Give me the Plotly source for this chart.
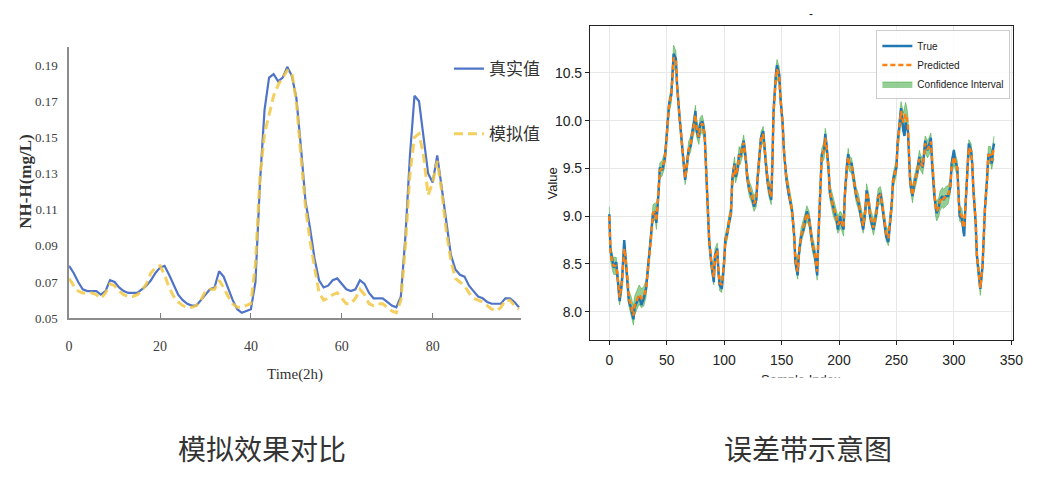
import plotly.graph_objects as go

W, H = 1046, 490

# ---------------- Left chart data: NH-H (mg/L) vs Time(2h) ----------------
time_2h = list(range(100))
nh_true = [0.079, 0.075, 0.070, 0.066, 0.065, 0.065, 0.065, 0.063, 0.065, 0.071,
           0.070, 0.067, 0.065, 0.064, 0.064, 0.064, 0.066, 0.068, 0.071, 0.075,
           0.078, 0.079, 0.074, 0.068, 0.063, 0.060, 0.058, 0.057, 0.057, 0.060,
           0.063, 0.066, 0.067, 0.076, 0.073, 0.066, 0.060, 0.055, 0.053, 0.054,
           0.055, 0.070, 0.125, 0.165, 0.183, 0.185, 0.181, 0.183, 0.189, 0.184,
           0.172, 0.145, 0.115, 0.100, 0.083, 0.071, 0.067, 0.068, 0.071, 0.072,
           0.069, 0.066, 0.065, 0.066, 0.071, 0.069, 0.064, 0.061, 0.061, 0.061,
           0.059, 0.057, 0.056, 0.062, 0.095, 0.140, 0.173, 0.170, 0.150, 0.130,
           0.125, 0.140, 0.122, 0.102, 0.085, 0.077, 0.074, 0.073, 0.068, 0.065,
           0.062, 0.061, 0.059, 0.058, 0.058, 0.058, 0.061, 0.061, 0.059, 0.056]
nh_sim = [0.072, 0.068, 0.065, 0.064, 0.064, 0.064, 0.063, 0.061, 0.064, 0.069,
          0.068, 0.065, 0.063, 0.062, 0.062, 0.063, 0.065, 0.069, 0.075, 0.078,
          0.079, 0.074, 0.067, 0.062, 0.059, 0.057, 0.056, 0.056, 0.057, 0.060,
          0.065, 0.066, 0.066, 0.071, 0.067, 0.062, 0.058, 0.056, 0.056, 0.057,
          0.058, 0.080, 0.128, 0.152, 0.162, 0.173, 0.179, 0.183, 0.187, 0.186,
          0.170, 0.140, 0.112, 0.093, 0.078, 0.064, 0.060, 0.061, 0.063, 0.064,
          0.061, 0.058, 0.058, 0.061, 0.066, 0.063, 0.058, 0.057, 0.058, 0.058,
          0.056, 0.054, 0.053, 0.060, 0.090, 0.130, 0.150, 0.152, 0.140, 0.118,
          0.125, 0.137, 0.120, 0.098, 0.082, 0.072, 0.070, 0.068, 0.064, 0.061,
          0.060, 0.059, 0.057, 0.055, 0.054, 0.056, 0.060, 0.060, 0.057, 0.055]
left_yticks = [0.05, 0.07, 0.09, 0.11, 0.13, 0.15, 0.17, 0.19]
left_ytext = ["0.05", "0.07", "0.09", "0.11", "0.13", "0.15", "0.17", "0.19"]
left_xticks = [0, 20, 40, 60, 80]

# ---------------- Right chart data: True / Predicted / CI ----------------
sample_idx = [0, 1, 3, 4, 6, 7, 9, 11, 13, 14, 16, 17, 19, 21, 22, 24, 26, 28, 30, 32, 34, 36, 38, 40, 41, 43, 44, 46, 48, 49,
              51, 52, 54, 55, 56, 58, 59, 61, 63, 65, 66, 68, 69, 71, 72, 74, 75, 76, 78, 79, 81, 83, 84, 86, 87, 89, 91, 92, 94, 95,
              96, 98, 100, 101, 103, 104, 106, 107, 109, 110, 112, 113, 114, 116, 117, 119, 120, 122, 124, 126, 128, 129, 131, 132, 134, 135, 137, 138, 139, 141,
              142, 143, 145, 146, 148, 149, 151, 152, 154, 156, 159, 161, 162, 164, 165, 167, 169, 170, 172, 174, 175, 177, 179, 181, 182, 184, 185, 187, 188, 189,
              191, 192, 194, 195, 197, 198, 199, 201, 202, 204, 205, 207, 208, 209, 211, 212, 214, 215, 217, 218, 219, 221, 223, 224, 226, 227, 229, 230, 231, 233,
              234, 236, 237, 239, 240, 241, 243, 244, 246, 247, 249, 250, 251, 253, 254, 256, 257, 258, 259, 260, 261, 262, 264, 265, 267, 268, 270, 271, 273, 274,
              275, 277, 278, 280, 281, 283, 284, 285, 287, 288, 290, 291, 293, 294, 295, 297, 298, 300, 301, 303, 304, 305, 307, 308, 309, 310, 312, 313, 315, 316,
              317, 319, 320, 322, 323, 325, 326, 327, 329, 330, 332, 333, 334, 335]
val_true = [9.02, 8.66, 8.52, 8.46, 8.52, 8.38, 8.11, 8.31, 8.75, 8.59, 8.31, 8.11, 8.04, 7.92, 8.04, 8.11, 8.16, 8.07, 8.14, 8.24, 8.48, 8.73, 9.02, 9.05, 8.93, 9.27, 9.51, 9.48, 9.58, 9.69,
            9.96, 10.17, 10.27, 10.51, 10.70, 10.65, 10.37, 10.06, 9.79, 9.55, 9.38, 9.58, 9.69, 9.74, 9.86, 9.99, 10.10, 9.89, 9.82, 9.96, 9.99, 9.86, 9.55, 9.07, 8.73, 8.48, 8.31, 8.59, 8.66, 8.42,
            8.28, 8.24, 8.52, 8.76, 8.83, 8.93, 9.03, 9.38, 9.55, 9.41, 9.51, 9.65, 9.62, 9.72, 9.79, 9.58, 9.41, 9.27, 9.21, 9.10, 9.17, 9.38, 9.65, 9.82, 9.89, 9.72, 9.45, 9.34, 9.27, 9.17,
            9.55, 10.10, 10.48, 10.58, 10.48, 10.24, 9.96, 9.69, 9.41, 9.24, 9.07, 8.79, 8.52, 8.38, 8.59, 8.79, 8.86, 8.93, 9.05, 8.97, 8.86, 8.69, 8.59, 8.38, 8.76, 9.34, 9.65, 9.69, 9.86, 9.76,
            9.48, 9.24, 9.14, 9.07, 9.00, 8.97, 8.86, 9.00, 8.93, 8.86, 9.21, 9.55, 9.65, 9.55, 9.55, 9.45, 9.31, 9.21, 9.14, 9.07, 8.97, 8.86, 9.07, 9.27, 9.14, 9.00, 8.90, 8.86, 8.93, 9.07,
            9.21, 9.24, 9.17, 8.97, 8.83, 8.79, 8.73, 8.86, 9.14, 9.38, 9.48, 9.51, 9.76, 10.00, 10.13, 9.89, 9.84, 9.98, 9.92, 9.89, 9.62, 9.34, 9.21, 9.31, 9.41, 9.45, 9.62, 9.55, 9.51, 9.65,
            9.79, 9.69, 9.72, 9.82, 9.55, 9.21, 9.10, 9.03, 9.10, 9.17, 9.21, 9.17, 9.21, 9.21, 9.21, 9.31, 9.55, 9.69, 9.58, 9.51, 9.17, 9.00, 8.97, 8.86, 8.79, 9.07, 9.48, 9.76, 9.69, 9.55,
            9.27, 8.93, 8.59, 8.35, 8.24, 8.48, 8.79, 9.07, 9.41, 9.65, 9.62, 9.55, 9.69, 9.76]
val_pred = [9.00, 8.62, 8.50, 8.48, 8.48, 8.40, 8.15, 8.30, 8.66, 8.58, 8.33, 8.14, 8.06, 7.96, 8.06, 8.13, 8.18, 8.14, 8.16, 8.24, 8.47, 8.72, 9.03, 9.05, 8.95, 9.25, 9.48, 9.50, 9.58, 9.68,
            9.95, 10.15, 10.27, 10.48, 10.66, 10.63, 10.38, 10.06, 9.80, 9.55, 9.40, 9.57, 9.70, 9.76, 9.85, 9.97, 10.06, 9.92, 9.83, 9.94, 9.97, 9.86, 9.55, 9.09, 8.75, 8.50, 8.36, 8.58, 8.64, 8.44,
            8.30, 8.28, 8.52, 8.74, 8.84, 8.93, 9.05, 9.36, 9.53, 9.43, 9.52, 9.64, 9.62, 9.71, 9.77, 9.59, 9.42, 9.28, 9.22, 9.13, 9.18, 9.38, 9.63, 9.80, 9.86, 9.72, 9.46, 9.36, 9.29, 9.20,
            9.55, 10.08, 10.45, 10.54, 10.47, 10.24, 9.96, 9.70, 9.42, 9.26, 9.07, 8.80, 8.55, 8.42, 8.60, 8.80, 8.88, 8.93, 9.03, 8.97, 8.87, 8.70, 8.60, 8.42, 8.76, 9.32, 9.63, 9.69, 9.82, 9.75,
            9.49, 9.26, 9.16, 9.09, 9.03, 8.98, 8.91, 8.96, 8.95, 8.88, 9.20, 9.52, 9.62, 9.55, 9.53, 9.45, 9.32, 9.22, 9.15, 9.09, 9.00, 8.90, 9.06, 9.25, 9.15, 9.02, 8.93, 8.88, 8.94, 9.07,
            9.20, 9.22, 9.18, 8.99, 8.86, 8.82, 8.77, 8.87, 9.13, 9.36, 9.48, 9.52, 9.74, 9.98, 10.10, 9.98, 10.02, 10.07, 10.03, 9.95, 9.66, 9.36, 9.22, 9.31, 9.41, 9.46, 9.60, 9.56, 9.52, 9.64,
            9.76, 9.70, 9.72, 9.78, 9.60, 9.25, 9.10, 9.05, 9.10, 9.16, 9.20, 9.18, 9.21, 9.22, 9.22, 9.32, 9.52, 9.62, 9.58, 9.50, 9.20, 9.03, 9.00, 8.90, 8.88, 9.07, 9.46, 9.72, 9.68, 9.55,
            9.28, 8.95, 8.60, 8.36, 8.25, 8.48, 8.78, 9.06, 9.40, 9.64, 9.64, 9.58, 9.66, 9.72]
ci_half = [0.10, 0.08, 0.08, 0.09, 0.09, 0.08, 0.08, 0.08, 0.08, 0.08, 0.08, 0.08, 0.10, 0.10, 0.10, 0.10, 0.10, 0.10, 0.10, 0.09, 0.08, 0.08, 0.09, 0.09, 0.09, 0.08, 0.08, 0.08, 0.08, 0.08,
           0.08, 0.08, 0.08, 0.09, 0.13, 0.10, 0.08, 0.07, 0.07, 0.07, 0.07, 0.08, 0.08, 0.08, 0.08, 0.09, 0.10, 0.09, 0.08, 0.09, 0.09, 0.08, 0.07, 0.07, 0.07, 0.07, 0.08, 0.08, 0.08, 0.08,
           0.08, 0.08, 0.08, 0.07, 0.07, 0.07, 0.08, 0.09, 0.09, 0.08, 0.08, 0.09, 0.08, 0.08, 0.08, 0.08, 0.08, 0.08, 0.08, 0.08, 0.08, 0.08, 0.08, 0.08, 0.08, 0.08, 0.08, 0.09, 0.09, 0.08,
           0.08, 0.08, 0.09, 0.10, 0.09, 0.08, 0.07, 0.07, 0.07, 0.07, 0.07, 0.08, 0.08, 0.08, 0.08, 0.08, 0.08, 0.08, 0.08, 0.08, 0.08, 0.08, 0.08, 0.09, 0.08, 0.08, 0.08, 0.09, 0.10, 0.09,
           0.08, 0.08, 0.09, 0.09, 0.09, 0.09, 0.09, 0.09, 0.09, 0.09, 0.08, 0.08, 0.09, 0.08, 0.08, 0.08, 0.08, 0.08, 0.08, 0.08, 0.08, 0.08, 0.09, 0.09, 0.08, 0.08, 0.08, 0.08, 0.08, 0.08,
           0.09, 0.09, 0.08, 0.08, 0.08, 0.08, 0.08, 0.08, 0.08, 0.08, 0.08, 0.08, 0.08, 0.09, 0.10, 0.10, 0.12, 0.12, 0.11, 0.10, 0.08, 0.08, 0.08, 0.08, 0.08, 0.08, 0.09, 0.08, 0.08, 0.08,
           0.08, 0.09, 0.09, 0.09, 0.08, 0.09, 0.09, 0.10, 0.10, 0.10, 0.10, 0.10, 0.10, 0.10, 0.09, 0.08, 0.08, 0.08, 0.08, 0.08, 0.08, 0.08, 0.08, 0.08, 0.08, 0.08, 0.08, 0.08, 0.08, 0.08,
           0.08, 0.08, 0.08, 0.08, 0.08, 0.08, 0.07, 0.07, 0.08, 0.09, 0.09, 0.09, 0.10, 0.12]
right_xticks = [0, 50, 100, 150, 200, 250, 300, 350]
right_yticks = [8.0, 8.5, 9.0, 9.5, 10.0, 10.5]
right_ytext = ["8.0", "8.5", "9.0", "9.5", "10.0", "10.5"]

assert len(sample_idx) == len(val_true) == len(val_pred) == len(ci_half)
ci_lower = [p - h for p, h in zip(val_pred, ci_half)]
ci_upper = [p + h for p, h in zip(val_pred, ci_half)]

SERIF = "Liberation Serif, Times New Roman, serif"
SANS = "Liberation Sans, Arial, sans-serif"
CJK = "Noto Sans CJK SC, sans-serif"

def fx(p):
    return p / W

def fy(p):
    return 1 - p / H

fig = go.Figure()

# Left chart
fig.add_trace(go.Scatter(x=time_2h, y=nh_true, mode="lines", name="真实值",
                         line=dict(color="#4f74c8", width=2.2),
                         xaxis="x", yaxis="y", legend="legend", legendgroup="t"))
fig.add_trace(go.Scatter(x=time_2h, y=nh_sim, mode="lines", name="模拟值",
                         line=dict(color="#f2c844", width=3, dash="9px,5px"), opacity=0.85,
                         xaxis="x", yaxis="y", legend="legend", legendgroup="s"))

# Right chart
fig.add_trace(go.Scatter(x=sample_idx, y=ci_lower, mode="lines", line=dict(width=1, color="rgba(44,160,44,0.45)"),
                         showlegend=False, hoverinfo="skip", xaxis="x2", yaxis="y2", legend="legend2"))
fig.add_trace(go.Scatter(x=sample_idx, y=ci_upper, mode="lines", line=dict(width=1, color="rgba(44,160,44,0.45)"),
                         fill="tonexty", fillcolor="rgba(44,160,44,0.5)", name="Confidence Interval",
                         xaxis="x2", yaxis="y2", legend="legend2", legendrank=3))
fig.add_trace(go.Scatter(x=sample_idx, y=val_true, mode="lines", name="True",
                         line=dict(color="#1f77b4", width=2.4),
                         xaxis="x2", yaxis="y2", legend="legend2", legendrank=1))
fig.add_trace(go.Scatter(x=sample_idx, y=val_pred, mode="lines", name="Predicted",
                         line=dict(color="#ff7f0e", width=2.4, dash="5px,3px"),
                         xaxis="x2", yaxis="y2", legend="legend2", legendrank=2))

annotations = [
    dict(text="<b>NH-H(mg/L)</b>", x=fx(22), y=fy(185), textangle=-90,
         font=dict(family=SERIF, size=17, color="#333333")),
    dict(text="Time(2h)", x=fx(295), y=fy(381), font=dict(family=SERIF, size=15, color="#333333")),
    dict(text="Value", x=fx(556), y=fy(187), textangle=-90, font=dict(family=SANS, size=13, color="#222222")),
    dict(text="-", x=fx(818), y=fy(14), font=dict(family=SANS, size=12, color="#222222")),
    dict(text="Sample Index", x=fx(808), y=fy(386), font=dict(family=SANS, size=13, color="#222222")),
    dict(text=" ", x=fx(808), y=fy(394), width=200, height=18, bgcolor="white",
         font=dict(size=8)),
    dict(text="模拟效果对比", x=fx(262), y=fy(455), font=dict(family=CJK, size=28, color="#333333")),
    dict(text="误差带示意图", x=fx(815), y=fy(455), font=dict(family=CJK, size=28, color="#333333")),
]
for a in annotations:
    a.update(xref="paper", yref="paper", showarrow=False, xanchor="center", yanchor="middle")

fig.update_layout(
    width=W, height=H, margin=dict(l=0, r=0, t=0, b=0),
    paper_bgcolor="white", plot_bgcolor="white",
    xaxis=dict(domain=[fx(66), fx(524.3)], range=[0, 99.5], anchor="y",
               tickvals=left_xticks, ticks="inside", ticklen=5, tickcolor="#808080",
               showline=True, linecolor="#8c8c8c", linewidth=1.5, showgrid=False, zeroline=False,
               tickfont=dict(family=SERIF, size=14, color="#404040"), ticklabelstandoff=14),
    yaxis=dict(domain=[fy(323.5), fy(47.7)], range=[0.05, 0.2], anchor="x",
               tickvals=left_yticks, ticktext=left_ytext, ticks="",
               showline=True, linecolor="#8c8c8c", linewidth=1.5, showgrid=False, zeroline=False,
               tickfont=dict(family=SERIF, size=13, color="#404040"), ticklabelstandoff=7),
    xaxis2=dict(domain=[fx(594), fx(1023)], range=[-16.75, 351.75], anchor="y2",
                tickvals=right_xticks, ticks="outside", ticklen=4, tickcolor="#222222",
                showline=True, mirror=True, linecolor="#222222", linewidth=1.2,
                showgrid=True, gridcolor="#e8e8e8", gridwidth=1, zeroline=False,
                tickfont=dict(family=SANS, size=14, color="#222222"), ticklabelstandoff=3),
    yaxis2=dict(domain=[fy(346), fy(26)], range=[7.70, 10.995], anchor="x2",
                tickvals=right_yticks, ticktext=right_ytext, ticks="outside", ticklen=4, tickcolor="#222222",
                showline=True, mirror=True, linecolor="#222222", linewidth=1.2,
                showgrid=True, gridcolor="#e8e8e8", gridwidth=1, zeroline=False,
                tickfont=dict(family=SANS, size=14, color="#222222")),
    legend=dict(x=fx(451), y=fy(52), xanchor="left", yanchor="top",
                bgcolor="rgba(0,0,0,0)", borderwidth=0, tracegroupgap=40,
                font=dict(family=CJK, size=17, color="#333333"), itemwidth=30),
    legend2=dict(x=fx(1020), y=fy(31), xanchor="right", yanchor="top", traceorder="normal",
                 bgcolor="rgba(255,255,255,0.85)", bordercolor="#cccccc", borderwidth=1,
                 font=dict(family=SANS, size=10, color="#222222"), tracegroupgap=0, itemwidth=30),
    annotations=annotations,
    showlegend=True,
)

fig.write_html("out.html")
